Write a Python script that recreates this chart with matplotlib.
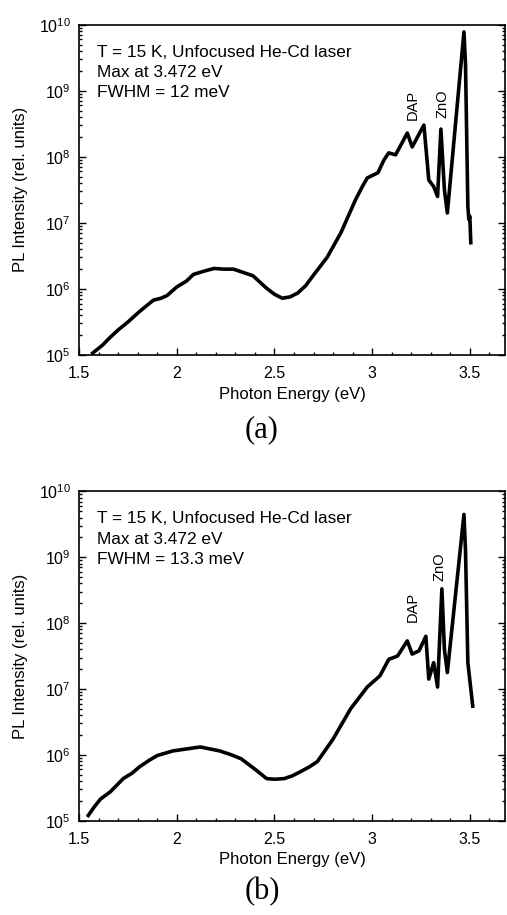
import numpy as np
import matplotlib
matplotlib.use("Agg")
import matplotlib.pyplot as plt
from matplotlib.ticker import LogLocator, MultipleLocator, NullFormatter

plt.rcParams['font.family'] = ['Liberation Sans', 'DejaVu Sans']
plt.rcParams['mathtext.fontset'] = 'custom'
plt.rcParams['mathtext.rm'] = 'Liberation Sans'
plt.rcParams['mathtext.it'] = 'Liberation Sans:italic'

# Panel (a) spectrum: photon energy (eV) and log10 of PL intensity
energy_a = [1.57, 1.62, 1.66, 1.70, 1.75, 1.81, 1.88, 1.92, 1.95, 2.00, 2.05, 2.085,
            2.14, 2.19, 2.24, 2.29, 2.34, 2.39, 2.46, 2.50, 2.54, 2.58, 2.62, 2.66,
            2.70, 2.77, 2.84, 2.915, 2.95, 2.975, 3.03, 3.06, 3.085, 3.12, 3.18,
            3.205, 3.265, 3.29, 3.315, 3.335, 3.352, 3.37, 3.385, 3.47, 3.478, 3.49,
            3.495, 3.50, 3.505]
log_int_a = [5.03, 5.15, 5.27, 5.38, 5.50, 5.66, 5.83, 5.86, 5.90, 6.03, 6.12, 6.22,
             6.27, 6.31, 6.30, 6.30, 6.25, 6.20, 6.01, 5.92, 5.86, 5.88, 5.94, 6.05,
             6.21, 6.48, 6.85, 7.35, 7.55, 7.68, 7.76, 7.95, 8.06, 8.03, 8.36,
             8.15, 8.48, 7.65, 7.55, 7.40, 8.42, 7.50, 7.15, 9.89, 9.40, 7.25,
             7.05, 7.10, 6.70]

# Panel (b) spectrum
energy_b = [1.547, 1.58, 1.61, 1.66, 1.726, 1.77, 1.81, 1.86, 1.90, 1.98, 2.05,
            2.12, 2.17, 2.22, 2.28, 2.33, 2.41, 2.46, 2.50, 2.55, 2.59, 2.63, 2.68,
            2.72, 2.80, 2.89, 2.975, 3.04, 3.085, 3.13, 3.18, 3.205, 3.24, 3.275,
            3.29, 3.315, 3.335, 3.357, 3.37, 3.385, 3.47, 3.478, 3.49, 3.515]
log_int_b = [5.08, 5.22, 5.33, 5.44, 5.64, 5.72, 5.82, 5.92, 5.99, 6.06, 6.09,
             6.12, 6.09, 6.06, 6.00, 5.94, 5.76, 5.64, 5.63, 5.64, 5.68, 5.74, 5.82,
             5.90, 6.24, 6.70, 7.03, 7.20, 7.45, 7.50, 7.73, 7.53, 7.58, 7.80,
             7.15, 7.40, 7.03, 8.52, 7.60, 7.25, 9.65, 9.10, 7.40, 6.74]

info_a = "T = 15 K, Unfocused He-Cd laser\nMax at 3.472 eV\nFWHM = 12 meV"
info_b = "T = 15 K, Unfocused He-Cd laser\nMax at 3.472 eV\nFWHM = 13.3 meV"

# label positions (energy, log10 intensity)
dap_pos_a, zno_pos_a = (3.21, 8.78), (3.36, 8.80)
dap_pos_b, zno_pos_b = (3.21, 8.24), (3.345, 8.86)

fig = plt.figure(figsize=(5.07, 9.15), dpi=100)


def draw_panel(rect, energy, log_int, info, dap_pos, zno_pos, tag, tag_y):
    ax = fig.add_axes(rect)
    ax.plot(energy, 10 ** np.array(log_int), color='black', lw=2.6,
            solid_joinstyle='round')
    ax.set_yscale('log')
    ax.set_xlim(1.5, 3.68)
    ax.set_ylim(1e5, 1e10)
    ax.xaxis.set_major_locator(MultipleLocator(0.5))
    ax.xaxis.set_minor_locator(MultipleLocator(0.1))
    ax.xaxis.set_major_formatter(plt.FuncFormatter(lambda v, p: f"{v:g}"))
    ax.yaxis.set_major_locator(LogLocator(base=10, numticks=10))
    ax.yaxis.set_minor_locator(LogLocator(base=10, subs=np.arange(2, 10), numticks=10))
    ax.yaxis.set_minor_formatter(NullFormatter())
    ax.tick_params(which='both', direction='in', top=False, right=True,
                   labelsize=11.5, width=1)
    ax.tick_params(axis='x', pad=8)
    ax.tick_params(axis='y', pad=6)
    ax.tick_params(which='major', length=5)
    ax.tick_params(which='minor', length=2.5)
    for s in ax.spines.values():
        s.set_linewidth(1.2)
    ax.set_xlabel('Photon Energy (eV)', fontsize=12, labelpad=4)
    ax.set_ylabel('PL Intensity (rel. units)', fontsize=12, labelpad=8)
    ax.text(0.043, 0.94, info, transform=ax.transAxes, fontsize=12.4,
            va='top', ha='left', linespacing=1.45)
    ax.text(dap_pos[0], 10 ** dap_pos[1], 'DAP', rotation=90, fontsize=10.5,
            ha='center', va='center')
    ax.text(zno_pos[0], 10 ** zno_pos[1], 'ZnO', rotation=90, fontsize=10.5,
            ha='center', va='center')
    fig.text(262 / 507, tag_y, tag, fontsize=22,
             family='Liberation Serif', ha='center', va='center')
    return ax


draw_panel([0.156, 0.612, 0.840, 0.361], energy_a, log_int_a, info_a,
           dap_pos_a, zno_pos_a, '(a)', 1 - 430 / 915)
draw_panel([0.156, 0.103, 0.840, 0.360], energy_b, log_int_b, info_b,
           dap_pos_b, zno_pos_b, '(b)', 1 - 892 / 915)

fig.savefig('out.png', dpi=100)
